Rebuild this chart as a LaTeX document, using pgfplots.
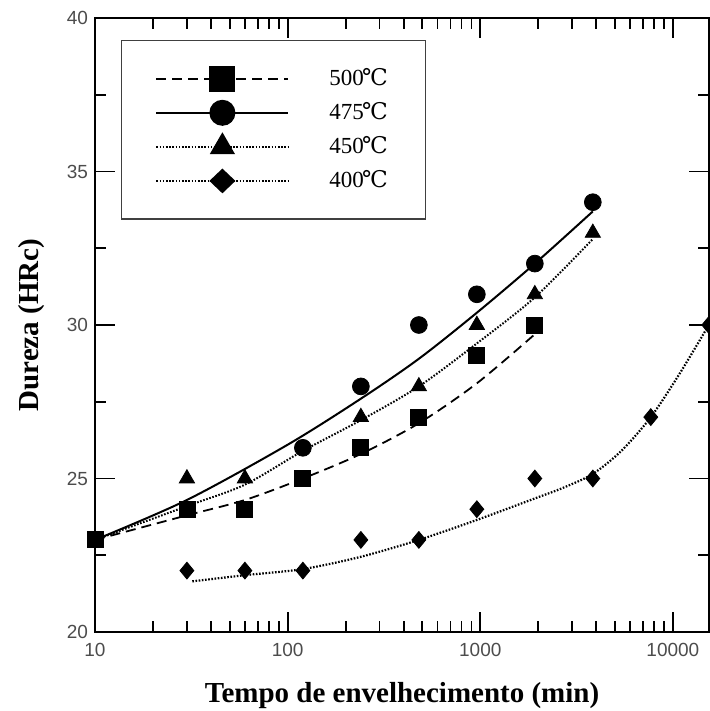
\documentclass[border=0pt]{standalone}
\usepackage{fontspec}
\setmainfont{Liberation Serif}
\newfontfamily\tickfont{Liberation Sans}
\newfontfamily\degfont{DejaVu Serif}
\usepackage{pgfplots}
\pgfplotsset{compat=1.18}
\newcommand{\dc}{{\degfont\kern-0.08em ℃}}

\begin{document}
\begin{tikzpicture}
\begin{axis}[
    xmode=log,
    width=307pt, height=307pt, scale only axis,
    xmin=10, xmax=15400, ymin=20, ymax=40,
    xtick={10,100,1000,10000},
    xticklabels={10,100,1000,10000},
    minor xtick={20,30,40,50,60,70,80,90,200,300,400,500,600,700,800,900,2000,3000,4000,5000,6000,7000,8000,9000},
    ytick={20,25,30,35,40},
    minor ytick={22.5,27.5,32.5,37.5},
    tick align=inside,
    major tick length=10pt, minor tick length=5.5pt,
    axis line style={line width=1pt},
    every tick/.style={black, line width=0.9pt},
    /pgf/number format/assume math mode=true,
    tick label style={font=\tickfont\fontsize{9.5}{11}\selectfont, text=black!70},
    xticklabel style={yshift=-2pt},
    xlabel={Tempo de envelhecimento (min)},
    ylabel={Dureza (HRc)},
    label style={font=\bfseries\fontsize{14.5}{17}\selectfont},
    xlabel style={at={(axis description cs:0.5,-0.103)}, anchor=center},
    ylabel style={at={(axis description cs:-0.104,0.5)}, anchor=center},
    legend image code/.code={
      \draw[mark repeat=2, mark phase=2] plot coordinates {(0pt,0pt) (33pt,0pt) (66pt,0pt)};
    },
    legend cell align=left,
    legend style={
      at={(axis description cs:0.042,0.964)}, anchor=north west,
      draw=black!75, line width=0.6pt,
      inner xsep=17pt, inner ysep=12pt,
      row sep=3pt,
      font=\fontsize{11.5}{13}\selectfont,
      /tikz/every odd column/.style={column sep=18pt},
    },
  ]
  \coordinate (bl) at (rel axis cs:0,0);
  \coordinate (tr) at (rel axis cs:1,1);

  % legend entries
  \addlegendimage{black, line width=0.9pt, dash pattern=on 5pt off 3pt, mark=square*, mark size=6pt, mark options={solid}}
  \addlegendentry{500\dc}
  \addlegendimage{black, line width=1pt, mark=*, mark size=6pt}
  \addlegendentry{475\dc}
  \addlegendimage{black, line width=1pt, dash pattern=on 0.8pt off 0.8pt, mark=triangle*, mark size=6.3pt, mark options={solid}}
  \addlegendentry{450\dc}
  \addlegendimage{black, line width=1pt, dash pattern=on 0.8pt off 0.8pt, mark=diamond*, mark size=5.5pt, mark options={solid, xscale=1.4}}
  \addlegendentry{400\dc}

  % fitted curves
  \addplot[forget plot, black, line width=0.9pt, dash pattern=on 5pt off 3pt, smooth] coordinates {
    (10,23) (30,23.8) (60,24.3) (120,25.0) (240,25.8) (480,26.8) (960,28.1) (1920,29.7)
  };
  \addplot[forget plot, black, line width=1pt, smooth] coordinates {
    (10,23) (30,24.3) (100,26.1) (240,27.6) (480,28.9) (960,30.4) (1920,32.0) (3840,33.7)
  };
  \addplot[forget plot, black, line width=1pt, dash pattern=on 0.8pt off 0.8pt, smooth] coordinates {
    (10,23) (30,24.1) (60,24.8) (120,25.9) (240,26.9) (480,28.0) (960,29.4) (1920,30.9) (3840,32.8)
  };
  \addplot[forget plot, black, line width=1.1pt, dash pattern=on 0.8pt off 0.8pt, smooth] coordinates {
    (32,21.65) (60,21.85) (120,22.05) (240,22.45) (480,23.0) (960,23.65) (1920,24.35) (2700,24.7) (3840,25.15) (5400,25.9) (7680,27.0) (10800,28.4) (15360,30.0)
  };

  % data points
  \addplot[forget plot, only marks, mark=*, mark size=4.2pt, black] coordinates {
    (120,26) (240,28) (480,30) (960,31) (1920,32) (3840,34)
  };
  \addplot[forget plot, only marks, mark=triangle*, mark size=4.4pt, black] coordinates {
    (30,25) (60,25) (240,27) (480,28) (960,30) (1920,31) (3840,33)
  };
  \addplot[forget plot, only marks, mark=square*, mark size=4pt, black] coordinates {
    (10,23) (30,24) (60,24) (120,25) (240,26) (480,27) (960,29) (1920,30)
  };
  \addplot[forget plot, only marks, mark=diamond*, mark size=4.2pt, mark options={xscale=1.1}, black] coordinates {
    (30,22) (60,22) (120,22) (240,23) (480,23) (960,24) (1920,25) (3840,25) (7680,27) (15360,30)
  };
\end{axis}
\pgfresetboundingbox
\path[use as bounding box] ([shift={(-47.5pt,-39.5pt)}]bl) rectangle ([shift={(0pt,9pt)}]tr);
\end{tikzpicture}
\end{document}
